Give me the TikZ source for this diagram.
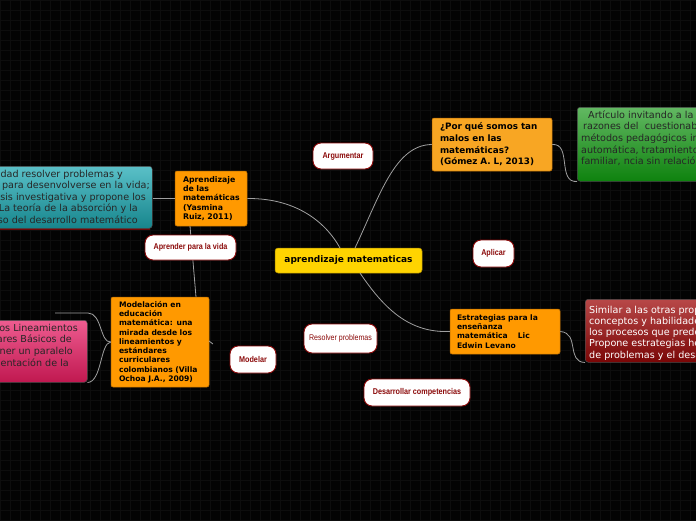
\documentclass[tikz,border=0pt]{standalone}
\usepackage{fontspec}
\setmainfont{DejaVu Sans}
\newfontfamily\pillfont[FakeStretch=0.86]{Liberation Sans}
\definecolor{bgc}{HTML}{030303}
\definecolor{gridc}{HTML}{0D0D0D}
\definecolor{conngray}{HTML}{A0A0A0}
\definecolor{orangefill}{HTML}{FF9900}
\definecolor{orangeborder}{HTML}{B86A00}
\definecolor{porquefill}{HTML}{F8A623}
\definecolor{yellowfill}{HTML}{FFD400}
\definecolor{yellowborder}{HTML}{A88800}
\definecolor{pillred}{HTML}{8B0A0A}
\definecolor{tealtop}{HTML}{5AC0C8}
\definecolor{tealbot}{HTML}{17858C}
\definecolor{greentop}{HTML}{62B862}
\definecolor{greenbot}{HTML}{0E820E}
\definecolor{pinktop}{HTML}{EE5C90}
\definecolor{pinkbot}{HTML}{C01850}
\definecolor{redtop}{HTML}{B84848}
\definecolor{redbot}{HTML}{7A0606}
\begin{document}
\begin{tikzpicture}[x=1pt,y=-1pt,
  conn/.style={draw=conngray, line width=0.8pt},
  obox/.style={draw=orangeborder, fill=orangefill, rounded corners=2pt, line width=0.5pt,
    inner ysep=0pt, align=left, text=black},
  sidebox/.style={rounded corners=3pt, line width=0.5pt, draw=black!70},
  pillbox/.style={draw=pillred, fill=white, rounded corners=8pt, line width=0.9pt,
    inner sep=0pt, text=pillred, font=\pillfont\bfseries\fontsize{8.4}{9}\selectfont},
  sidetext/.style={inner sep=0pt, font=\fontsize{9.6}{10}\selectfont},
]
\useasboundingbox (0,0) rectangle (696,520);
\clip (0,0) rectangle (696,520);
\fill[bgc] (0,0) rectangle (696,520);
\draw[gridc, line width=0.4pt, step=10pt] (0,0) grid (696,520);

% ---------- side boxes (partly outside) ----------
\draw[pillred!80!black, line width=2pt] (-10,229) -- (150,229);
\node[sidebox, top color=tealtop, bottom color=tealbot, minimum width=166pt, minimum height=62pt, anchor=north west] (teal) at (-14,166) {};
\node[sidetext, anchor=base east, text=black!85] (t1) at (123,177) {idad resolver problemas y};
\node[sidetext, anchor=base east, text=black!85] (t2) at (150,188.5) {para desenvolverse en la vida;};
\node[sidetext, anchor=base east, text=black!85] (t3) at (146,200) {sis investigativa y propone los};
\node[sidetext, anchor=base east, text=black!85] (t4) at (138,211.5) {La teoría de la absorción y la};
\node[sidetext, anchor=base east, text=black!85] (t5) at (138,223) {so del desarrollo matemático};

\node[sidebox, top color=greentop, bottom color=greenbot, minimum width=140pt, minimum height=74pt, anchor=north west] (green) at (577,107) {};
\node[sidetext, anchor=base west, text=black!85] (g1) at (588,118) {Artículo invitando a la};
\node[sidetext, anchor=base west, text=black!85] (g2) at (583,129.7) {razones del\ \ cuestionab};
\node[sidetext, anchor=base west, text=black!85] (g3) at (581,141.3) {métodos pedagógicos in};
\node[sidetext, anchor=base west, text=black!85] (g4) at (581,153) {automática, tratamiento};
\node[sidetext, anchor=base west, text=black!85] (g5) at (581,164.7) {familiar, ncia sin relación};

\node[sidebox, top color=pinktop, bottom color=pinkbot, minimum width=101pt, minimum height=62pt, anchor=north west] (pink) at (-14,320) {};
\node[sidetext, anchor=base east, text=black!85] (p1) at (78,331) {los Lineamientos};
\node[sidetext, anchor=base east, text=black!85] (p2) at (72,342.7) {ares Básicos de};
\node[sidetext, anchor=base east, text=black!85] (p3) at (73,354.3) {ner un paralelo};
\node[sidetext, anchor=base east, text=black!85] (p4) at (69,366) {sentación de la};

\node[sidebox, top color=redtop, bottom color=redbot, minimum width=130pt, minimum height=63pt, anchor=north west] (red) at (585,299) {};
\node[sidetext, anchor=base west, text=white] (r1) at (589,313) {Similar a las otras prop};
\node[sidetext, anchor=base west, text=white] (r2) at (589,324.3) {conceptos y habilidade};
\node[sidetext, anchor=base west, text=white] (r3) at (589,335.5) {los procesos que predo};
\node[sidetext, anchor=base west, text=white] (r4) at (589,346.8) {Propone estrategias he};
\node[sidetext, anchor=base west, text=white] (r5) at (589,358) {de problemas y el desa};

% ---------- main nodes ----------
\node[draw=yellowborder, fill=yellowfill, rounded corners=3pt, line width=0.5pt, minimum width=147pt, minimum height=25pt, inner sep=0pt,
  font=\bfseries\fontsize{9}{10}\selectfont] (center) at (348.5,260.5) {aprendizaje matematicas};

\node[obox, minimum width=72pt, minimum height=55pt, text width=56pt, inner xsep=8pt,
  font=\bfseries\fontsize{7.8}{9.3}\selectfont] (yas) at (211,198.5)
  {Aprendizaje\\de las\\matemáticas\\(Yasmina\\Ruiz, 2011)};

\node[obox, fill=porquefill, minimum width=120pt, minimum height=53pt, text width=104pt, inner xsep=8pt,
  font=\bfseries\fontsize{8.8}{11.6}\selectfont] (porque) at (492,144.5)
  {¿Por qué somos tan\\malos en las\\matemáticas?\\(Gómez A. L, 2013)};

\node[obox, minimum width=98pt, minimum height=90pt, text width=82pt, inner xsep=8pt,
  font=\bfseries\fontsize{7.6}{9.25}\selectfont] (model) at (160,342)
  {Modelación en\\educación\\matemática: una\\mirada desde los\\lineamientos y\\estándares\\curriculares\\colombianos (Villa\\Ochoa J.A., 2009)};

\node[obox, minimum width=110pt, minimum height=45pt, text width=96pt, inner xsep=7pt,
  font=\bfseries\fontsize{7.6}{9.3}\selectfont] (estr) at (505,331.5)
  {Estrategias para la\\enseñanza\\matemática\ \ \ \ Lic\\Edwin Levano};

% ---------- connectors ----------
\coordinate (ctopL) at (340,248);
\coordinate (ctopR) at (355,248);
\coordinate (cbot) at (360,273);
\coordinate (modtick) at (213,344);
\coordinate (yasbot) at (190,226);
\coordinate (modtop) at (196,297);
\draw[conn] (yas.east) .. controls (300,198) and (328,226) .. (ctopL);
\draw[conn] (ctopR) .. controls (380,195) and (395,145) .. (porque.west);
\draw[conn] (cbot) .. controls (385,310) and (410,333) .. (estr.west);
\draw[conn] (yas.west) -- (teal.east |- yas.west);
\draw[conn] (porque.east) .. controls (572,143) and (557,183) .. (green.south west);
\draw[conn] (estr.east) .. controls (580,333) and (566,362) .. (red.south west);
\draw[conn] (yasbot) -- (modtop);
\draw[conn] (model.west) .. controls (100,343) and (102,313) .. (88,313) -- (55,313);
\draw[conn] (model.west) .. controls (100,343) and (102,382) .. (pink.south east);
\draw[conn] (209,341) -- (modtick);

% ---------- pills ----------
\node[pillbox, minimum width=60pt, minimum height=26pt] (argu) at (343,156) {Argumentar};
\node[pillbox, minimum width=91pt, minimum height=25pt] (aprender) at (190.5,247.5) {Aprender para la vida};
\node[pillbox, minimum width=41pt, minimum height=27pt] (aplicar) at (493.5,253.5) {Aplicar};
\node[pillbox, minimum width=73pt, minimum height=29pt, font=\pillfont\fontsize{8.2}{9}\selectfont] (resolver) at (340.5,338.5) {Resolver problemas};
\node[pillbox, minimum width=46pt, minimum height=27pt] (modelar) at (253,359.5) {Modelar};
\node[pillbox, minimum width=106pt, minimum height=27pt] (desarr) at (417,392.5) {Desarrollar competencias};
\end{tikzpicture}
\end{document}
